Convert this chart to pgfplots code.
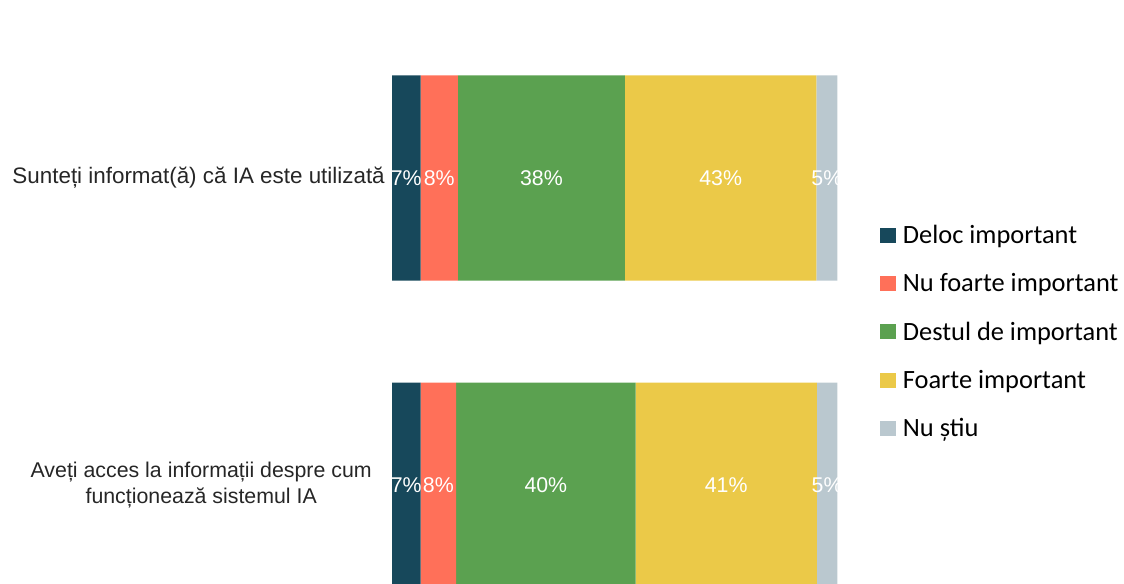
\documentclass[border=0pt]{standalone}
\usepackage{pgfplots}
\pgfplotsset{compat=1.18}
\usepackage{pgfplotstable}
\usepackage{fontspec}
\setmainfont{Liberation Sans}
\newfontfamily\legfont{Carlito}
\definecolor{cDeloc}{RGB}{23,72,91}
\definecolor{cNu}{RGB}{255,112,89}
\definecolor{cDestul}{RGB}{91,161,80}
\definecolor{cFoarte}{RGB}{235,201,72}
\definecolor{cNs}{RGB}{186,200,207}

\pgfplotstableread{
v y lab
6.4 1 7
6.4 0 7
}\tDeloc
\pgfplotstableread{
v y lab
8.4 1 8
8.0 0 8
}\tNu
\pgfplotstableread{
v y lab
37.5 1 38
40.3 0 40
}\tDestul
\pgfplotstableread{
v y lab
43.0 1 43
40.7 0 41
}\tFoarte
\pgfplotstableread{
v y lab
4.7 1 5
4.6 0 5
}\tNs

\begin{document}
\begin{tikzpicture}
\path[use as bounding box] (0pt,0pt) rectangle (843pt,-437.25pt);
\begin{axis}[
  at={(294pt,-437.25pt)}, anchor=south west,
  scale only axis, width=334pt, height=418.9pt,
  xbar stacked, bar width=153.75pt,
  xmin=0, xmax=100, ymin=-0.319, ymax=1.5,
  axis line style={draw=none},
  xtick=\empty,
  major tick length=0pt,
  ytick={1},
  yticklabels={\fontsize{16.8}{19}\selectfont Sunteți informat(ă) că IA este utilizată},
  extra y ticks={0},
  extra y tick labels={Aveți acces la informații despre cum\\funcționează sistemul IA},
  extra y tick style={yticklabel style={align=center, xshift=-9.75pt}},
  yticklabel style={font=\fontsize{16}{19}\selectfont, inner sep=0pt, xshift=-5.25pt, text=black!85},
  every axis plot/.append style={draw=none},
  point meta=explicit symbolic,
  nodes near coords={\pgfplotspointmeta\%},
  every node near coord/.append style={anchor=center, text=white, font=\fontsize{16}{19}\selectfont},
  legend image code/.code={\fill[#1] (0pt,-4.5pt) rectangle (11.7pt,6.75pt);},
  legend style={at={(rel axis cs:1.0959,0.6422)}, anchor=north west, draw=none, inner sep=0pt,
    column sep=5.25pt, row sep=18.3pt, font=\legfont\fontsize{19.8}{21}\selectfont,
    nodes={inner sep=0pt, text height=14pt, text depth=4pt}},
  legend cell align=left,
]
\addplot[fill=cDeloc] table[x=v, y=y, meta=lab] {\tDeloc};
\addplot[fill=cNu] table[x=v, y=y, meta=lab] {\tNu};
\addplot[fill=cDestul] table[x=v, y=y, meta=lab] {\tDestul};
\addplot[fill=cFoarte] table[x=v, y=y, meta=lab] {\tFoarte};
\addplot[fill=cNs] table[x=v, y=y, meta=lab] {\tNs};
\legend{Deloc important, Nu foarte important, Destul de important, Foarte important, Nu știu}
\end{axis}
\end{tikzpicture}
\end{document}
